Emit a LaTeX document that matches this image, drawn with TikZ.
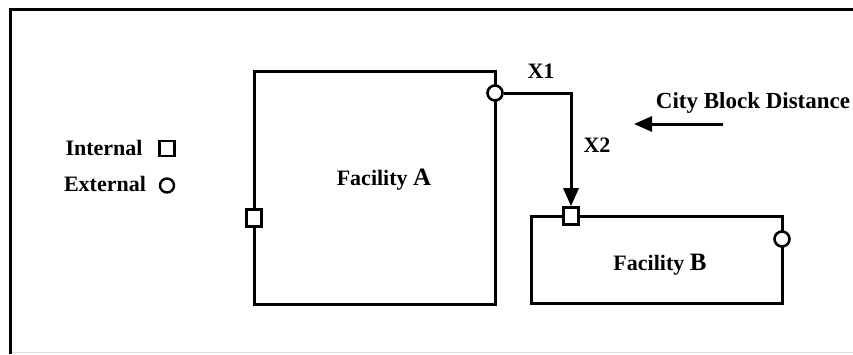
\documentclass[tikz,border=0pt]{standalone}
\usepackage{fontspec}
\setmainfont{Liberation Serif}
\usetikzlibrary{arrows.meta}
\begin{document}
\begin{tikzpicture}[x=1pt,y=-1pt,
  wire/.style={line width=3pt},
  facility/.style={draw, line width=3pt, rectangle, inner sep=0pt},
  port/.style={draw, line width=2.6pt, fill=white, inner sep=0pt},
  sqport/.style={port, rectangle, minimum width=15pt, minimum height=17pt},
  rdport/.style={port, circle, minimum size=15pt},
  lgsq/.style={port, line width=2.4pt, rectangle, minimum width=15pt, minimum height=15pt},
  lgrd/.style={port, line width=2.4pt, circle, minimum size=14pt},
  lbl/.style={font=\bfseries\fontsize{22}{22}\selectfont, inner sep=0pt},
  tip/.style={-{Triangle[length=18pt,width=15pt]}}]
\useasboundingbox (0,0) rectangle (853,354);
\fill[white] (0,0) rectangle (853,354);
% frame
\coordinate (ftl) at (10,9);
\coordinate (ftr) at (853,9);
\coordinate (fbl) at (10,354);
\coordinate (fbb) at (10,352);
\coordinate (fbr) at (853,352);
\draw[gray!25, line width=1pt] (fbb) -- (fbr);
\draw[line width=3pt] (ftr) -- (ftl) -- (fbl);
% facilities
\node[facility, minimum width=241pt, minimum height=233pt] (A) at (374.5,187.5) {};
\node[facility, minimum width=251pt, minimum height=87pt] (B) at (656.5,259.5) {};
% ports
\node[rdport] (Aext) at (495,93) {};
\node[sqport] (Aint) at (254,218) {};
\node[sqport] (Bint) at (571,216) {};
\node[rdport] (Bext) at (782,239) {};
% connector
\draw[wire, tip] (Aext.east) -| (Bint.north);
% labels
\node[lbl] (x1) at (541,71) {X1};
\node[lbl] (x2) at (597,145) {X2};
\node[lbl, anchor=base] (fa) at (384,185) {Facility {\fontsize{25}{25}\selectfont A}};
\node[lbl, anchor=base] (fb) at (660,270) {Facility {\fontsize{25}{25}\selectfont B}};
% city block distance
\node[lbl, anchor=base, font=\bfseries\fontsize{23}{23}\selectfont] (cbd) at (753,108) {City Block Distance};
\coordinate (cbs) at (723,124);
\coordinate (cbe) at (634,124);
\draw[wire, tip] (cbs) -- (cbe);
% legend
\node[lbl, anchor=base] (lint) at (104,155) {Internal};
\node[lgsq] (lsq) at (167,148.5) {};
\node[lbl, anchor=base] (lext) at (105,191) {External};
\node[lgrd] (lci) at (167,185.5) {};
\end{tikzpicture}
\end{document}
